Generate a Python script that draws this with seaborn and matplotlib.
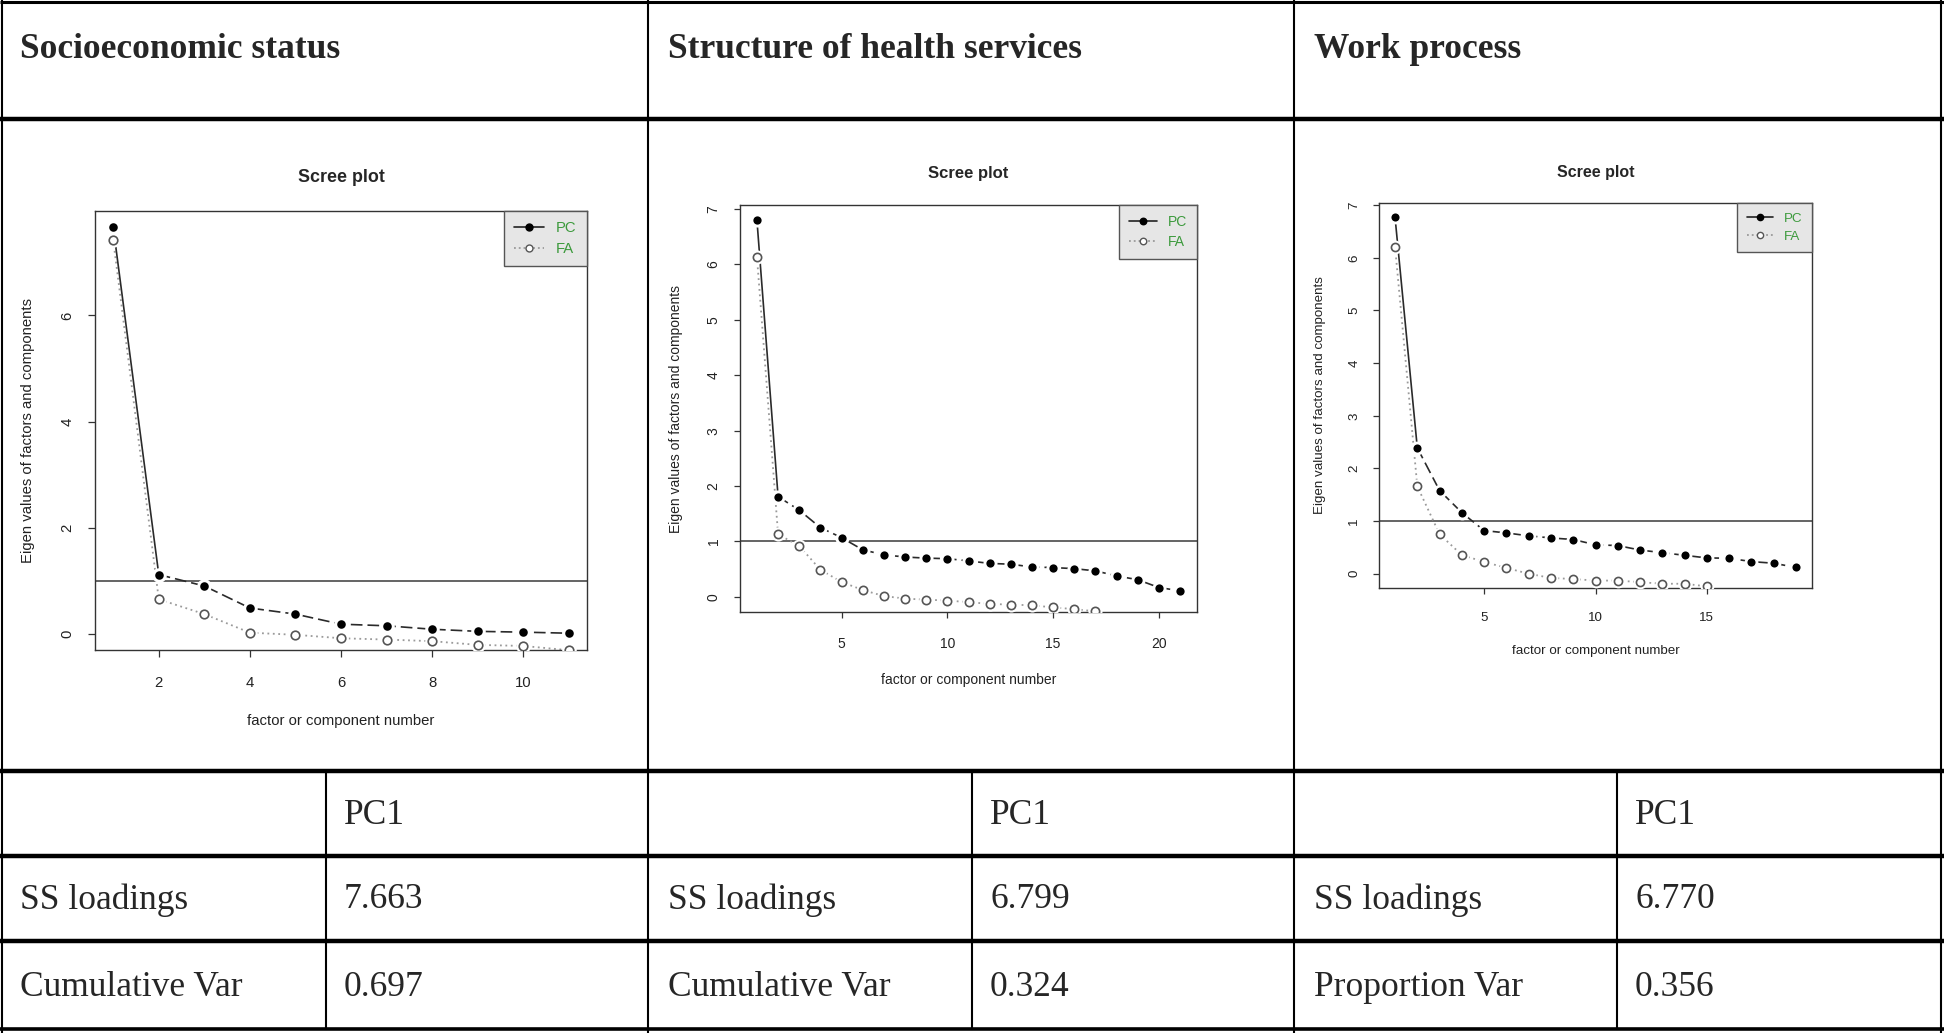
import numpy as np
import pandas as pd
import seaborn as sns
import matplotlib.pyplot as plt
from matplotlib.lines import Line2D

W, H = 1944, 1033

# ---- data ----
headers = ["Socioeconomic status", "Structure of health services", "Work process"]
pc1_label = "PC1"
ss_label = "SS loadings"
ss_values = ["7.663", "6.799", "6.770"]
var_labels = ["Cumulative Var", "Cumulative Var", "Proportion Var"]
var_values = ["0.697", "0.324", "0.356"]

ses_pc = [7.663, 1.115, 0.90, 0.485, 0.37, 0.18, 0.15, 0.085, 0.045, 0.03, 0.01]
ses_fa = [7.42, 0.65, 0.37, 0.02, -0.02, -0.085, -0.11, -0.14, -0.21, -0.23, -0.31]

hs_pc = [6.799, 1.81, 1.565, 1.25, 1.07, 0.85, 0.76, 0.72, 0.70, 0.69, 0.65,
         0.605, 0.59, 0.54, 0.53, 0.51, 0.47, 0.38, 0.31, 0.17, 0.11]
hs_fa = [6.14, 1.13, 0.92, 0.49, 0.27, 0.125, 0.015, -0.03, -0.05, -0.065,
         -0.095, -0.125, -0.14, -0.15, -0.19, -0.22, -0.26]

wp_pc = [6.770, 2.39, 1.58, 1.16, 0.82, 0.775, 0.72, 0.68, 0.65, 0.55,
         0.535, 0.45, 0.40, 0.35, 0.30, 0.295, 0.23, 0.20, 0.12]
wp_fa = [6.21, 1.66, 0.75, 0.355, 0.225, 0.11, 0.0, -0.08, -0.10, -0.13,
         -0.13, -0.16, -0.19, -0.19, -0.24]

sns.set_style("white")
plt.rcParams["font.family"] = ["Liberation Sans", "DejaVu Sans"]

fig = plt.figure(figsize=(W / 100, H / 100), dpi=100)

# ---- table grid + text on a pixel-coordinate background axes ----
bg = fig.add_axes([0, 0, 1, 1])
bg.set_xlim(0, W)
bg.set_ylim(H, 0)
bg.axis("off")

serif = ["Liberation Serif", "DejaVu Serif"]
for y, lw in [(2, 2.2), (119, 3.2), (771, 3.2), (856, 3.2), (941, 3.2), (1029, 2.6)]:
    bg.plot([0, W], [y, y], color="black", lw=lw, solid_capstyle="butt")
for x in [2, 648, 1294, 1941]:
    bg.plot([x, x], [0, H], color="black", lw=1.5)
for x in [326, 972, 1617]:
    bg.plot([x, x], [771, 1029], color="black", lw=1.5)

col_left = [0, 648, 1294]
col_mid = [326, 972, 1617]
for i in range(3):
    bg.text(col_left[i] + 20, 50, headers[i], family=serif, fontweight="bold",
            fontsize=25.5, va="center", ha="left")
    bg.text(col_mid[i] + 18, 815, pc1_label, family=serif, fontsize=25.5, va="center")
    bg.text(col_left[i] + 20, 900, ss_label, family=serif, fontsize=25.5, va="center")
    bg.text(col_mid[i] + 18, 900, ss_values[i], family=serif, fontsize=25.5, va="center")
    bg.text(col_left[i] + 20, 987, var_labels[i], family=serif, fontsize=25.5, va="center")
    bg.text(col_mid[i] + 18, 987, var_values[i], family=serif, fontsize=25.5, va="center")


def px_rect(l, t, r, b):
    return [l / W, 1 - b / H, (r - l) / W, (b - t) / H]


panels = [
    (ses_pc, ses_fa, px_rect(95, 211, 587, 650), 10.7, [0, 2, 4, 6], [2, 4, 6, 8, 10]),
    (hs_pc, hs_fa, px_rect(740, 205, 1197, 612), 10.0, list(range(8)), [5, 10, 15, 20]),
    (wp_pc, wp_fa, px_rect(1379, 203, 1812, 588), 9.6, list(range(8)), [5, 10, 15]),
]

for pc, fa, rect, fs, yticks, xticks in panels:
    s = fs / 10.7
    ax = fig.add_axes(rect)
    df_pc = pd.DataFrame({"n": np.arange(1, len(pc) + 1), "ev": pc})
    df_fa = pd.DataFrame({"n": np.arange(1, len(fa) + 1), "ev": fa})

    ax.axhline(1, color="#4a4a4a", lw=1.2, zorder=1)
    sns.lineplot(data=df_fa, x="n", y="ev", ax=ax, color="#9a9a9a", lw=1.3,
                 linestyle=(0, (1, 2)), zorder=2)
    # steep first drop reads as a solid stroke in the reference
    sns.lineplot(data=df_pc.iloc[:2], x="n", y="ev", ax=ax, color="#2a2a2a",
                 lw=1.2, linestyle="-", zorder=2)
    sns.lineplot(data=df_pc.iloc[1:], x="n", y="ev", ax=ax, color="#2a2a2a",
                 lw=1.2, linestyle=(0, (7, 3)), zorder=2)
    # white halo behind points, like R's type="b" gaps
    sns.scatterplot(data=df_fa, x="n", y="ev", ax=ax, color="white", s=110 * s,
                    linewidth=0, zorder=3)
    sns.scatterplot(data=df_pc, x="n", y="ev", ax=ax, color="white", s=110 * s,
                    linewidth=0, zorder=3)
    sns.scatterplot(data=df_fa, x="n", y="ev", ax=ax, facecolor="white",
                    edgecolor="#555555", s=38 * s, linewidth=1.2, zorder=4)
    sns.scatterplot(data=df_pc, x="n", y="ev", ax=ax, color="black", s=38 * s,
                    linewidth=0, zorder=4)

    n = len(pc)
    ax.set_xlim(1 - 0.04 * (n - 1), n + 0.04 * (n - 1))
    ax.set_ylim(-0.04 * pc[0], pc[0] * 1.04)
    ax.set_xticks(xticks)
    ax.set_yticks(yticks)
    ax.tick_params(axis="both", direction="out", length=5 * s, width=0.9,
                   color="#333333", labelsize=fs, labelcolor="#222222",
                   left=True, bottom=True)
    ax.tick_params(axis="x", pad=14 * s)
    ax.tick_params(axis="y", pad=10 * s, labelrotation=90)
    for lab in ax.get_yticklabels():
        lab.set_va("center")
    for sp in ax.spines.values():
        sp.set_color("#333333")
        sp.set_linewidth(1.0)
    ax.set_xlabel("factor or component number", fontsize=fs, color="#222222",
                  labelpad=17 * s)
    ax.set_ylabel("Eigen values of factors and components", fontsize=fs,
                  color="#222222", labelpad=18 * s)
    ax.set_title("Scree plot", fontsize=fs * 1.2, fontweight="bold", pad=21 * s)

    handles = [
        Line2D([], [], color="#222222", lw=1.2, marker="o", ms=5 * s,
               mfc="black", mec="black"),
        Line2D([], [], color="#9a9a9a", lw=1.3, ls=":", marker="o", ms=5 * s,
               mfc="white", mec="#555555"),
    ]
    leg = ax.legend(handles, ["PC", "FA"], loc="upper right", borderaxespad=0,
                    fancybox=False, frameon=True, facecolor="#e6e6e6",
                    edgecolor="#555555", framealpha=1, labelcolor="#3c9a3c",
                    fontsize=fs, handlelength=2.0, handletextpad=0.8,
                    borderpad=0.7, labelspacing=0.45)
    leg.get_frame().set_linewidth(1.0)

fig.savefig("out.png", dpi=100)
